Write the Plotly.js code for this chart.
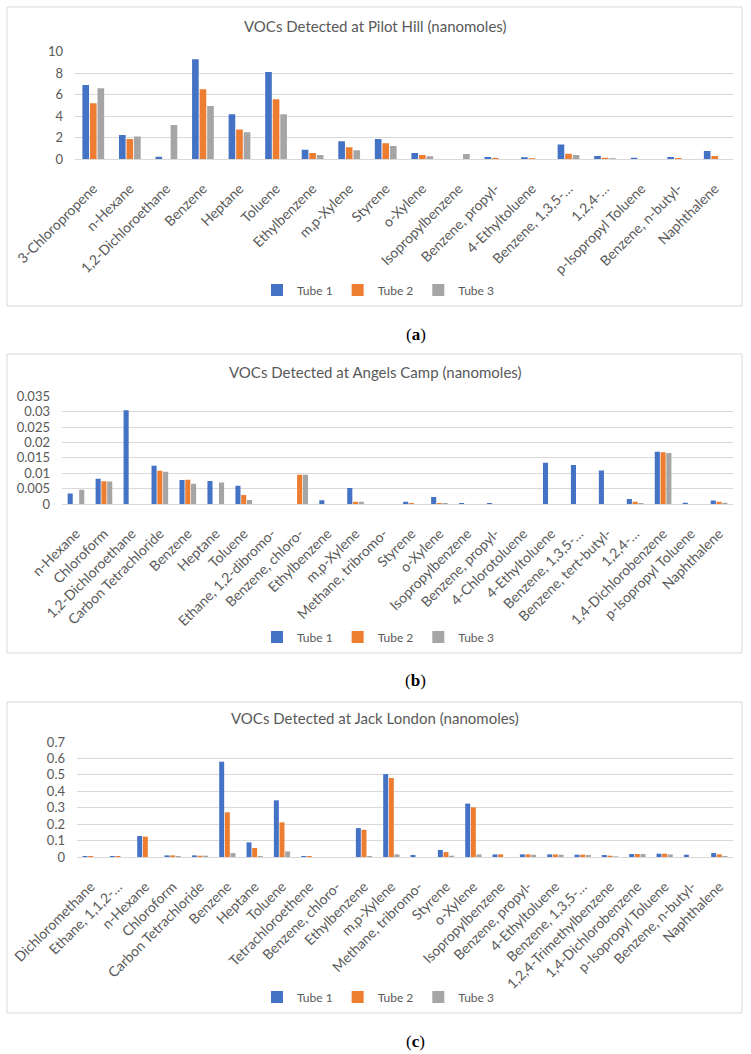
<!DOCTYPE html>
<html>
<head>
<meta charset="utf-8">
<script src="https://cdn.plot.ly/plotly-3.0.1.min.js"></script>
<style>
html,body{margin:0;padding:0;background:#fff;}
#chart{width:751px;height:1054px;}
</style>
</head>
<body>
<div id="chart"></div>
<script>
// ---------- DATA ----------
const seriesNames = ["Tube 1", "Tube 2", "Tube 3"];

const pilotTitle = "VOCs Detected at Pilot Hill (nanomoles)";
const pilotCats = ["3-Chloropropene","n-Hexane","1,2-Dichloroethane","Benzene","Heptane","Toluene","Ethylbenzene","m,p-Xylene","Styrene","o-Xylene","Isopropylbenzene","Benzene, propyl-","4-Ethyltoluene","Benzene, 1,3,5-…","1,2,4-…","p-Isopropyl Toluene","Benzene, n-butyl-","Naphthalene"];
const pilotT1 = [6.9,2.24,0.22,9.3,4.16,8.1,0.87,1.65,1.86,0.56,0,0.19,0.16,1.34,0.28,0.12,0.19,0.75];
const pilotT2 = [5.2,1.86,0,6.5,2.76,5.56,0.56,1.09,1.46,0.37,0,0.09,0.06,0.5,0.12,0,0.09,0.28];
const pilotT3 = [6.6,2.1,3.17,4.94,2.5,4.16,0.37,0.81,1.21,0.25,0.47,0,0,0.37,0.06,0,0,0];
const pilotTicks = [0,2,4,6,8,10];

const angelsTitle = "VOCs Detected at Angels Camp (nanomoles)";
const angelsCats = ["n-Hexane","Chloroform","1,2-Dichloroethane","Carbon Tetrachloride","Benzene","Heptane","Toluene","Ethane, 1,2-dibromo-","Benzene, chloro-","Ethylbenzene","m,p-Xylene","Methane, tribromo-","Styrene","o-Xylene","Isopropylbenzene","Benzene, propyl-","4-Chlorotoluene","4-Ethyltoluene","Benzene, 1,3,5-…","Benzene, tert-butyl-","1,2,4-…","1,4-Dichlorobenzene","p-Isopropyl Toluene","Naphthalene"];
const angelsT1 = [0.0034,0.0082,0.0305,0.0124,0.0078,0.0075,0.0059,0,0,0.0012,0.0052,0,0.0007,0.0023,0.0003,0.0003,0,0.0134,0.0127,0.0109,0.0016,0.017,0.0004,0.0011];
const angelsT2 = [0,0.0074,0,0.0108,0.0079,0,0.0029,0,0.0095,0,0.0007,0,0.0003,0.0003,0,0,0,0,0,0,0.0007,0.0168,0,0.0007];
const angelsT3 = [0.0046,0.0073,0,0.0105,0.0066,0.007,0.0013,0,0.0095,0,0.0007,0,0,0.0003,0,0,0,0,0,0,0.0003,0.0166,0,0.0004];
const angelsTicks = [0,0.005,0.01,0.015,0.02,0.025,0.03,0.035];

const jackTitle = "VOCs Detected at Jack London (nanomoles)";
const jackCats = ["Dichloromethane","Ethane, 1,1,2-…","n-Hexane","Chloroform","Carbon Tetrachloride","Benzene","Heptane","Toluene","Tetrachloroethene","Benzene, chloro-","Ethylbenzene","m,p-Xylene","Methane, tribromo-","Styrene","o-Xylene","Isopropylbenzene","Benzene, propyl-","4-Ethyltoluene","Benzene, 1,3,5-…","1,2,4-Trimethylbenzene","1,4-Dichlorobenzene","p-Isopropyl Toluene","Benzene, n-butyl-","Naphthalene"];
const jackT1 = [0.006,0.006,0.128,0.010,0.010,0.58,0.089,0.345,0.006,0,0.176,0.505,0.012,0.043,0.325,0.016,0.016,0.016,0.014,0.012,0.018,0.02,0.014,0.024];
const jackT2 = [0.006,0.006,0.124,0.010,0.008,0.272,0.055,0.211,0.006,0,0.166,0.481,0,0.03,0.302,0.016,0.016,0.016,0.014,0.008,0.018,0.02,0,0.016];
const jackT3 = [0,0,0,0.006,0.008,0.024,0.006,0.034,0,0,0.006,0.016,0,0.008,0.016,0,0.014,0.014,0.012,0.004,0.018,0.016,0,0.006];
const jackTicks = [0,0.1,0.2,0.3,0.4,0.5,0.6,0.7];

const captions = ["(<b>a</b>)", "(<b>b</b>)", "(<b>c</b>)"];

// ---------- STYLE / LAYOUT ----------
const W = 751, H = 1054;
const colors = ["#4472C4", "#ED7D31", "#A5A5A5"];
const txt = "#595959";
const grid = "#D9D9D9";
const font = "Lato, 'Open Sans', sans-serif";
const px = x => x / W;
const py = y => 1 - y / H;

const panels = [
  {cats: pilotCats, vals: [pilotT1, pilotT2, pilotT3], ticks: pilotTicks, title: pilotTitle,
   x0: 75, x1: 733, yTop: 51.7, yBot: 159, box: [7, 742, 7, 306], titleY: 26, legY: 290, capY: 334},
  {cats: angelsCats, vals: [angelsT1, angelsT2, angelsT3], ticks: angelsTicks, title: angelsTitle,
   x0: 62, x1: 733, yTop: 396.3, yBot: 504, box: [7, 742, 354, 653], titleY: 372, legY: 637, capY: 680},
  {cats: jackCats, vals: [jackT1, jackT2, jackT3], ticks: jackTicks, title: jackTitle,
   x0: 77, x1: 733, yTop: 742, yBot: 857, box: [7, 742, 702, 1013], titleY: 718, legY: 997, capY: 1041}
];

const data = [];
const layout = {
  width: W, height: H,
  margin: {l: 0, r: 0, t: 0, b: 0},
  paper_bgcolor: "#fff", plot_bgcolor: "#fff",
  barmode: "group", bargap: 0.38, bargroupgap: 0.12,
  font: {family: font, color: txt},
  shapes: [], annotations: []
};

panels.forEach((p, i) => {
  const sfx = i === 0 ? "" : String(i + 1);
  const legName = "legend" + sfx;
  p.vals.forEach((v, k) => {
    data.push({
      type: "bar", name: seriesNames[k], x: p.cats, y: v,
      xaxis: "x" + sfx, yaxis: "y" + sfx, legend: legName,
      marker: {color: colors[k], line: {width: 0}},
      hoverinfo: "x+y+name"
    });
  });
  layout["xaxis" + sfx] = {
    domain: [px(p.x0), px(p.x1)], anchor: "y" + sfx, type: "category",
    tickangle: -45, automargin: false, ticklabelstandoff: 15,
    tickfont: {family: font, size: 14, color: txt},
    showline: true, linecolor: grid, linewidth: 1, showgrid: false, ticks: "",
    fixedrange: true
  };
  layout["yaxis" + sfx] = {
    domain: [py(p.yBot), py(p.yTop)], anchor: "x" + sfx,
    range: [p.ticks[0], p.ticks[p.ticks.length - 1]],
    tickmode: "array", tickvals: p.ticks, ticktext: p.ticks.map(String),
    gridcolor: grid, gridwidth: 1, zeroline: false, showline: false, ticks: "",
    ticklabelstandoff: 11, automargin: false,
    tickfont: {family: font, size: 13, color: txt},
    fixedrange: true
  };
  layout[legName] = {
    orientation: "h", x: px(378), xanchor: "center", y: py(p.legY), yanchor: "middle",
    font: {family: font, size: 12, color: txt}, itemwidth: 30,
    bgcolor: "rgba(0,0,0,0)", traceorder: "normal"
  };
  const b = p.box;
  layout.shapes.push({
    type: "rect", xref: "paper", yref: "paper",
    x0: px(b[0]), x1: px(b[1]), y0: py(b[3]), y1: py(b[2]),
    line: {color: grid, width: 1}, fillcolor: "rgba(0,0,0,0)", layer: "below"
  });
  layout.annotations.push({
    xref: "paper", yref: "paper", x: px(375), y: py(p.titleY),
    xanchor: "center", yanchor: "middle", showarrow: false,
    text: p.title, font: {family: font, size: 15, color: txt}
  });
  layout.annotations.push({
    xref: "paper", yref: "paper", x: px(416), y: py(p.capY),
    xanchor: "center", yanchor: "middle", showarrow: false,
    text: captions[i], font: {family: "'Liberation Serif', 'DejaVu Serif', serif", size: 17, color: "#000"}
  });
});

Plotly.newPlot("chart", data, layout, {displayModeBar: false, staticPlot: true});
</script>
</body>
</html>
